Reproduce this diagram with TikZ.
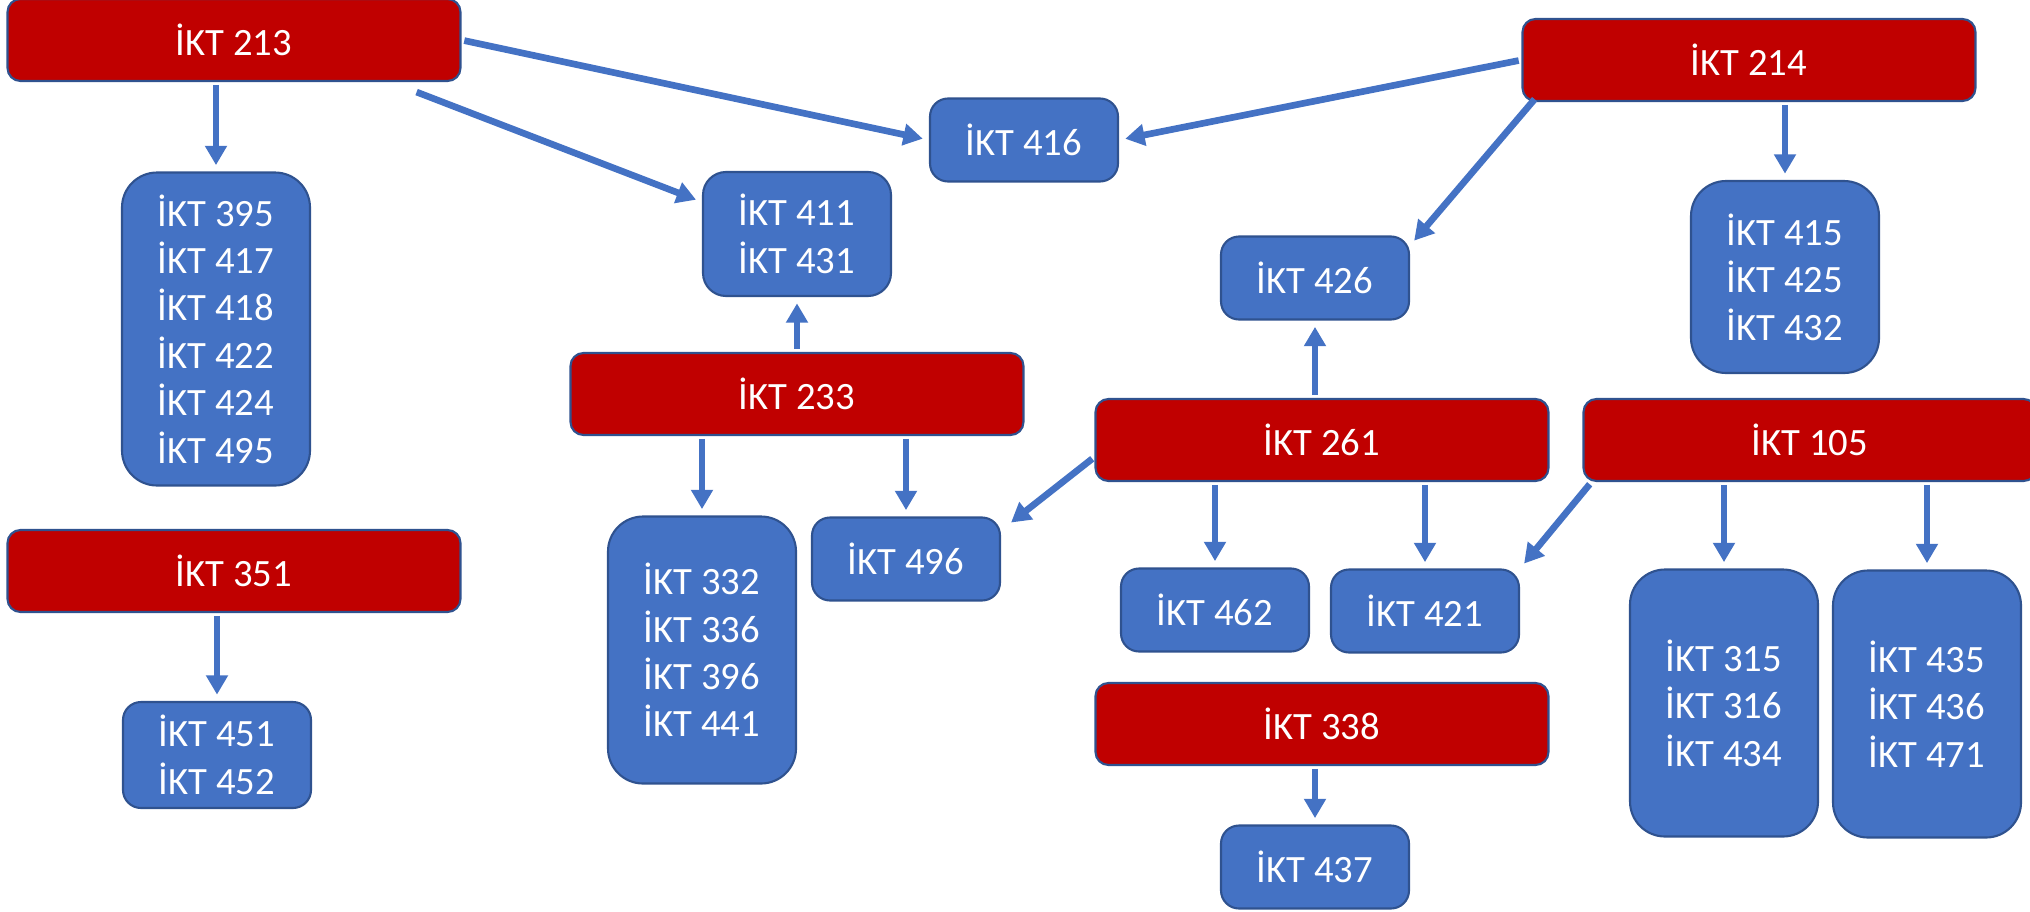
\documentclass[tikz,border=0pt]{standalone}
\usepackage{fontspec}
\setmainfont{Carlito}
\usetikzlibrary{arrows.meta}
\definecolor{iktred}{RGB}{192, 0, 0}
\definecolor{iktblue}{RGB}{68, 114, 196}
\definecolor{iktedge}{RGB}{47, 82, 143}

\begin{document}
\begin{tikzpicture}[x=0.1mm, y=-0.1mm,
    core/.style={draw=iktedge, line width=0.6pt, fill=iktred, rounded corners=1.3mm,
        minimum width=45.3mm, minimum height=8.2mm, inner sep=0pt, text=white,
        font=\fontsize{11}{13.5}\selectfont},
    course/.style={draw=iktedge, line width=0.6pt, fill=iktblue, rounded corners=1.8mm,
        minimum width=18.8mm, minimum height=8.3mm, inner sep=0pt, text=white,
        align=center, font=\fontsize{11}{13.5}\selectfont},
    tall/.style={course, rounded corners=3.5mm},
    link/.style={-{Triangle[width=6pt, length=5.5pt]}, line width=1.9pt, color=iktblue,
        shorten <=0.8pt, shorten >=1.8pt}]
    \useasboundingbox (0,0) rectangle (2030,911);

    % Core courses
    \node[core] (r213) at (234,40) {İKT 213};
    \node[core] (r214) at (1749,60) {İKT 214};
    \node[core] (r233) at (797,394) {İKT 233};
    \node[core] (r261) at (1322,440) {İKT 261};
    \node[core] (r105) at (1810,440) {İKT 105};
    \node[core] (r351) at (234,571) {İKT 351};
    \node[core] (r338) at (1322,724) {İKT 338};

    % Follow-up courses
    \node[tall, minimum height=31.3mm] (b395) at (216,329) {İKT 395\\İKT 417\\İKT 418\\İKT 422\\İKT 424\\İKT 495};
    \node[course, minimum height=12.4mm, rounded corners=2.3mm] (b411) at (797,234) {İKT 411\\İKT 431};
    \node[course] (b416) at (1024,140) {İKT 416};
    \node[course] (b426) at (1315,278) {İKT 426};
    \node[tall, minimum height=19.2mm] (b415) at (1785,277) {İKT 415\\İKT 425\\İKT 432};
    \node[tall, minimum height=26.7mm] (b332) at (702,650) {İKT 332\\İKT 336\\İKT 396\\İKT 441};
    \node[course] (b496) at (906,559) {İKT 496};
    \node[course] (b462) at (1215,610) {İKT 462};
    \node[course] (b421) at (1425,611) {İKT 421};
    \node[tall, minimum height=26.7mm] (b315) at (1724,703) {İKT 315\\İKT 316\\İKT 434};
    \node[tall, minimum height=26.7mm] (b435) at (1927,704) {İKT 435\\İKT 436\\İKT 471};
    \node[course, minimum height=10.6mm] (b451) at (217,755) {İKT 451\\İKT 452};
    \node[course] (b437) at (1315,867) {İKT 437};

    % From İKT 213
    \draw[link] (r213.south -| b395.north) -- (b395.north);
    \draw[link] (r213.east) -- (b416.west);
    \draw[link] ([xshift=18mm, yshift=-0.9mm]r213.south) -- ([yshift=3.2mm]b411.west);

    % From İKT 214
    \draw[link] (r214.west) -- (b416.east);
    \draw[link] ([xshift=1.5mm, yshift=0.5mm]r214.south west) -- ([yshift=-1mm]b426.north east);
    \draw[link] (r214.south -| b415.north) -- (b415.north);

    % From İKT 233
    \draw[link] (r233.north -| b411.south) -- (b411.south);
    \draw[link] (r233.south -| b332.north) -- (b332.north);
    \draw[link] (r233.south -| b496.north) -- (b496.north);

    % From İKT 261
    \draw[link] (r261.north -| b426.south) -- (b426.south);
    \draw[link] ([yshift=-1.7mm]r261.west) -- ([xshift=0.5mm, yshift=-1mm]b496.north east);
    \draw[link] (r261.south -| b462.north) -- (b462.north);
    \draw[link] (r261.south -| b421.north) -- (b421.north);

    % From İKT 105
    \draw[link] ([xshift=0.9mm]r105.south west) -- (b421.north east);
    \draw[link] (r105.south -| b315.north) -- (b315.north);
    \draw[link] (r105.south -| b435.north) -- (b435.north);

    % From İKT 351 and İKT 338
    \draw[link] (r351.south -| b451.north) -- (b451.north);
    \draw[link] (r338.south -| b437.north) -- (b437.north);
\end{tikzpicture}
\end{document}
